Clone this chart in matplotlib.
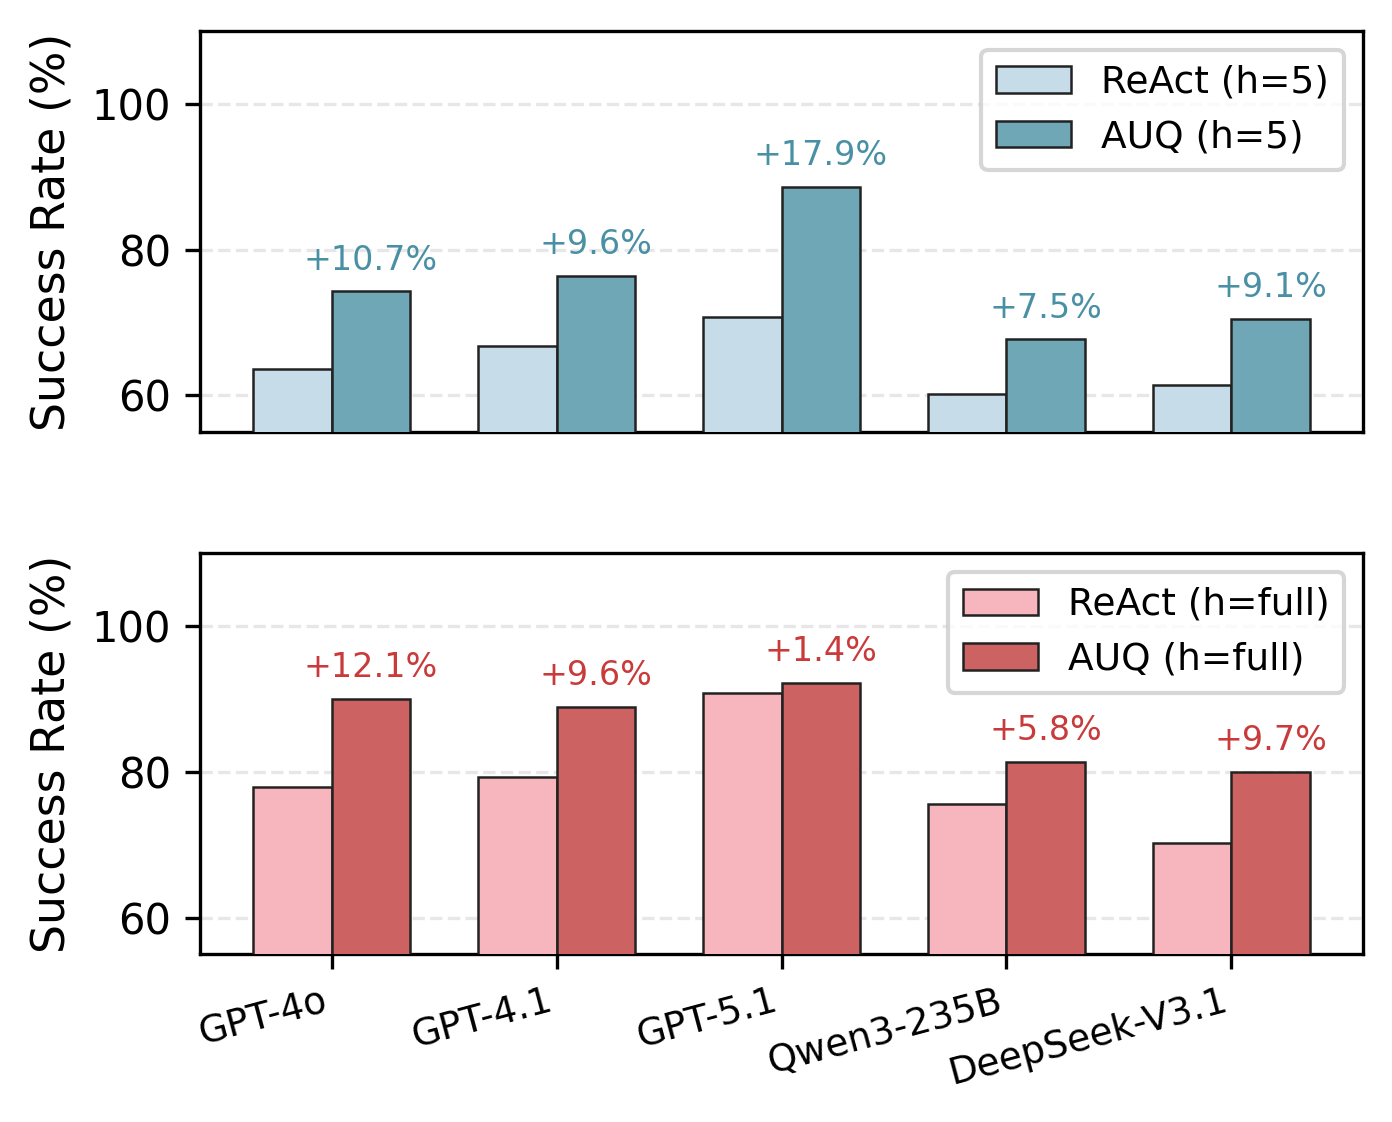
import numpy as np
import matplotlib
matplotlib.use("Agg")
import matplotlib.pyplot as plt

models = ["GPT-4o", "GPT-4.1", "GPT-5.1", "Qwen3-235B", "DeepSeek-V3.1"]

react_h5 = [63.6, 66.8, 70.7, 60.2, 61.4]
auq_h5 = [74.3, 76.4, 88.6, 67.7, 70.5]
gain_h5 = ["+10.7%", "+9.6%", "+17.9%", "+7.5%", "+9.1%"]

react_full = [77.9, 79.3, 90.8, 75.6, 70.3]
auq_full = [90.0, 88.9, 92.2, 81.4, 80.0]
gain_full = ["+12.1%", "+9.6%", "+1.4%", "+5.8%", "+9.7%"]

x = np.arange(len(models))
width = 0.35

fig, (ax1, ax2) = plt.subplots(2, 1, figsize=(4.64, 3.74), dpi=300, sharex=True)
fig.subplots_adjust(left=0.1437, right=0.9792, top=0.9724, bottom=0.1497, hspace=0.3025)

panels = [
    (ax1, react_h5, auq_h5, gain_h5, "ReAct (h=5)", "AUQ (h=5)", "#c6dce8", "#6fa7b6", "#4a90a4"),
    (ax2, react_full, auq_full, gain_full, "ReAct (h=full)", "AUQ (h=full)", "#f7b6be", "#cd6262", "#c93a3a"),
]

for ax, base, ours, gains, lab1, lab2, c1, c2, tc in panels:
    ax.bar(x - width / 2, base, width, label=lab1, color=c1, edgecolor="#222222", linewidth=0.6, zorder=3)
    ax.bar(x + width / 2, ours, width, label=lab2, color=c2, edgecolor="#222222", linewidth=0.6, zorder=3)
    for i, g in enumerate(gains):
        ax.text(x[i] + width / 2, ours[i] + 2, g, ha="center", va="bottom", fontsize=8, color=tc)
    ax.set_ylim(55, 110)
    ax.set_yticks([60, 80, 100])
    ax.tick_params(axis="y", labelsize=10)
    ax.set_ylabel("Success Rate (%)", fontsize=11)
    ax.grid(axis="y", linestyle="--", color="#dddddd", alpha=0.7, zorder=0)
    ax.legend(loc="upper right", fontsize=9, edgecolor="#cccccc")

ax1.tick_params(axis="x", bottom=False)
ax2.set_xticks(x)
ax2.set_xticklabels(models, rotation=15, ha="right", fontsize=9)

fig.savefig("out.png", dpi=300)
